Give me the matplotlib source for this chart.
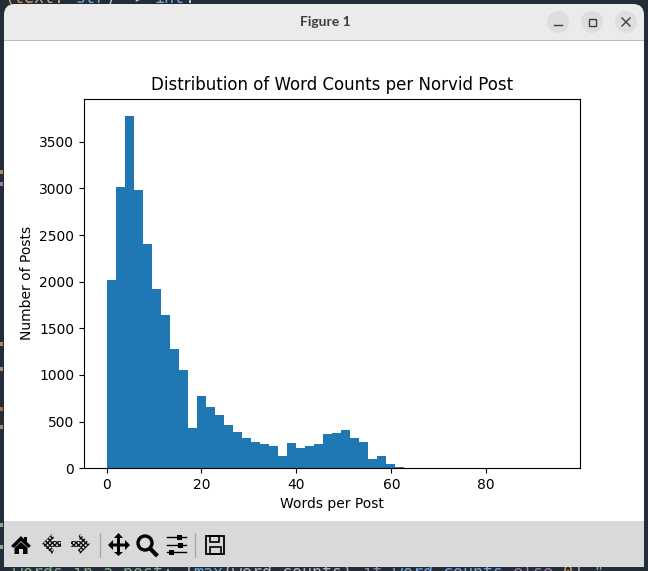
import numpy as np
import matplotlib
matplotlib.use('Agg')
import matplotlib.pyplot as plt
from matplotlib.patches import Rectangle, FancyBboxPatch, Circle, Polygon

# histogram data
max_words = 95
n_bins = 50
bin_counts = [2020, 3015, 3775, 2985, 2405, 1922, 1645, 1280, 1055, 433,
              777, 659, 573, 465, 390, 326, 283, 261, 240, 132,
              272, 218, 240, 261, 369, 380, 412, 326, 283, 100,
              132, 47, 14, 6, 4, 3, 2, 2, 1, 1,
              1, 1, 0, 1, 0, 0, 0, 0, 0, 1]
bin_edges = np.linspace(0, max_words, n_bins + 1)

W, H = 648, 571
fig = plt.figure(figsize=(W / 100, H / 100), dpi=100, facecolor='#232d3a')

# window chrome, in pixel coordinates
bg = fig.add_axes([0, 0, 1, 1], zorder=0)
bg.set_xlim(0, W)
bg.set_ylim(H, 0)
bg.axis('off')

# code behind the window, (start column, text, colour)
code_top = [(0, '(text:', '#d9a066'), (7, 'str', '#6fa8dc'), (10, ')', '#c8ccd0'),
            (12, '->', '#c8ccd0'), (15, 'int', '#6fa8dc'), (18, ':', '#c8ccd0')]
code_bottom = [(0, 'words in a post:', '#7fb08a'), (17, '{', '#b0b4b8'),
               (18, 'max', '#6fa8dc'), (21, '(word_counts)', '#b0b4b8'),
               (35, 'if', '#a07cb8'), (38, 'word_counts', '#6fa8dc'),
               (50, 'else', '#a07cb8'), (55, '0', '#d9a066'), (56, '}', '#b0b4b8'),
               (58, '"', '#7fb08a')]
for col, s, c in code_top:
    bg.text(5 + col * 10, 3, s, color=c, family='DejaVu Sans Mono', fontsize=12,
            va='baseline', zorder=0.5)
for col, s, c in code_bottom:
    bg.text(13 + col * 10, 578, s, color=c, family='DejaVu Sans Mono', fontsize=12,
            va='baseline', zorder=0.5)
# bits of code showing along the left edge
for y, c in [(170, '#a58a70'), (182, '#9a78b0'), (342, '#b88a58'), (367, '#a58a70'),
             (407, '#b85a48'), (425, '#a58a70'), (523, '#7fb08a'), (545, '#7fb08a')]:
    bg.add_patch(Rectangle((0, y), 2.5, 4, fc=c, ec='none', zorder=0.5))

bg.add_patch(FancyBboxPatch((4, 4), 640, 80, boxstyle='round,pad=0,rounding_size=11',
                            fc='#ebebeb', ec='none'))
bg.add_patch(Rectangle((4, 40), 640, 1, fc='#bdbdbd', ec='none', zorder=2))
bg.add_patch(Rectangle((4, 41), 640, 480, fc='white', ec='none', zorder=2))
bg.add_patch(Rectangle((4, 521), 640, 46, fc='#d9d9d9', ec='none', zorder=2))
bg.text(325, 22, 'Figure 1', family='Lato', fontweight='bold', fontsize=10,
        color='#3d3d3d', ha='center', va='center')

# window buttons
for cx in [558, 592, 626]:
    bg.add_patch(Circle((cx, 22), 11, fc='#dedede', ec='none', zorder=3))
bg.plot([554, 562], [24.5, 24.5], color='#3d3d3d', lw=1, zorder=4)
bg.add_patch(Rectangle((588.5, 18.5), 7, 7, fc='none', ec='#3d3d3d', lw=1, zorder=4))
bg.plot([622, 630], [18, 26], color='#3d3d3d', lw=1, zorder=4)
bg.plot([622, 630], [26, 18], color='#3d3d3d', lw=1, zorder=4)

# toolbar icons
tb = dict(fc='black', ec='none', zorder=4)
bg.add_patch(Polygon([[11, 546], [21, 536], [24, 539], [24, 537], [27, 537], [27, 542], [31, 546],
                      [28, 548], [21, 541], [14, 548]], **tb))
bg.add_patch(Polygon([[14.5, 548], [21, 542], [27.5, 548], [27.5, 554], [23, 554], [23, 549],
                      [19, 549], [19, 554], [14.5, 554]], **tb))
dither = dict(fc='#d9d9d9', ec='#111111', lw=0, hatch='xxxxxxx', zorder=4)
bg.add_patch(Polygon([[42, 544], [52, 534], [54, 538], [51, 541], [61, 541], [61, 547],
                      [51, 547], [54, 550], [52, 554]], **dither))
bg.add_patch(Polygon([[90, 544], [80, 534], [78, 538], [81, 541], [71, 541], [71, 547],
                      [81, 547], [78, 550], [80, 554]], **dither))
bg.add_patch(Polygon([[108, 545], [113, 540], [113, 543.5], [117, 543.5], [117, 538], [114, 538],
                      [118.5, 533], [123, 538], [120, 538], [120, 543.5], [125, 543.5], [125, 540],
                      [130, 545], [125, 550], [125, 546.5], [120, 546.5], [120, 552], [123, 552],
                      [118.5, 556], [114, 552], [117, 552], [117, 546.5], [113, 546.5], [113, 550]],
                     **tb))
bg.add_patch(Circle((145, 543), 7, fc='none', ec='black', lw=2.4, zorder=4))
bg.plot([150, 156], [548.5, 554.5], color='black', lw=3, zorder=4)
for y, x0 in [(537, 179), (545, 180), (552, 171)]:
    bg.plot([167, 186], [y, y], color='black', lw=1, zorder=4)
    bg.add_patch(Rectangle((x0 - 2.5, y - 2.5), 5, 5, **tb))
bg.add_patch(Rectangle((206, 536), 18, 18, fc='none', ec='black', lw=1.3, zorder=4))
bg.add_patch(Rectangle((210, 536), 9, 6, fc='none', ec='black', lw=1.2, zorder=4))
bg.add_patch(Rectangle((209.5, 547), 11, 7, fc='none', ec='black', lw=1.2, zorder=4))
for x in [100, 195]:
    bg.plot([x, x], [533, 557], color='#a8a8a8', lw=1, zorder=4)

# the histogram itself
ax = fig.add_axes([84 / W, (H - 468.2) / H, 496 / W, 369.6 / H], zorder=1)
ax.hist(bin_edges[:-1], bins=bin_edges, weights=bin_counts)
ax.set_title('Distribution of Word Counts per Norvid Post')
ax.set_xlabel('Words per Post')
ax.set_ylabel('Number of Posts')

plt.savefig('out.png', dpi=100, facecolor=fig.get_facecolor())
